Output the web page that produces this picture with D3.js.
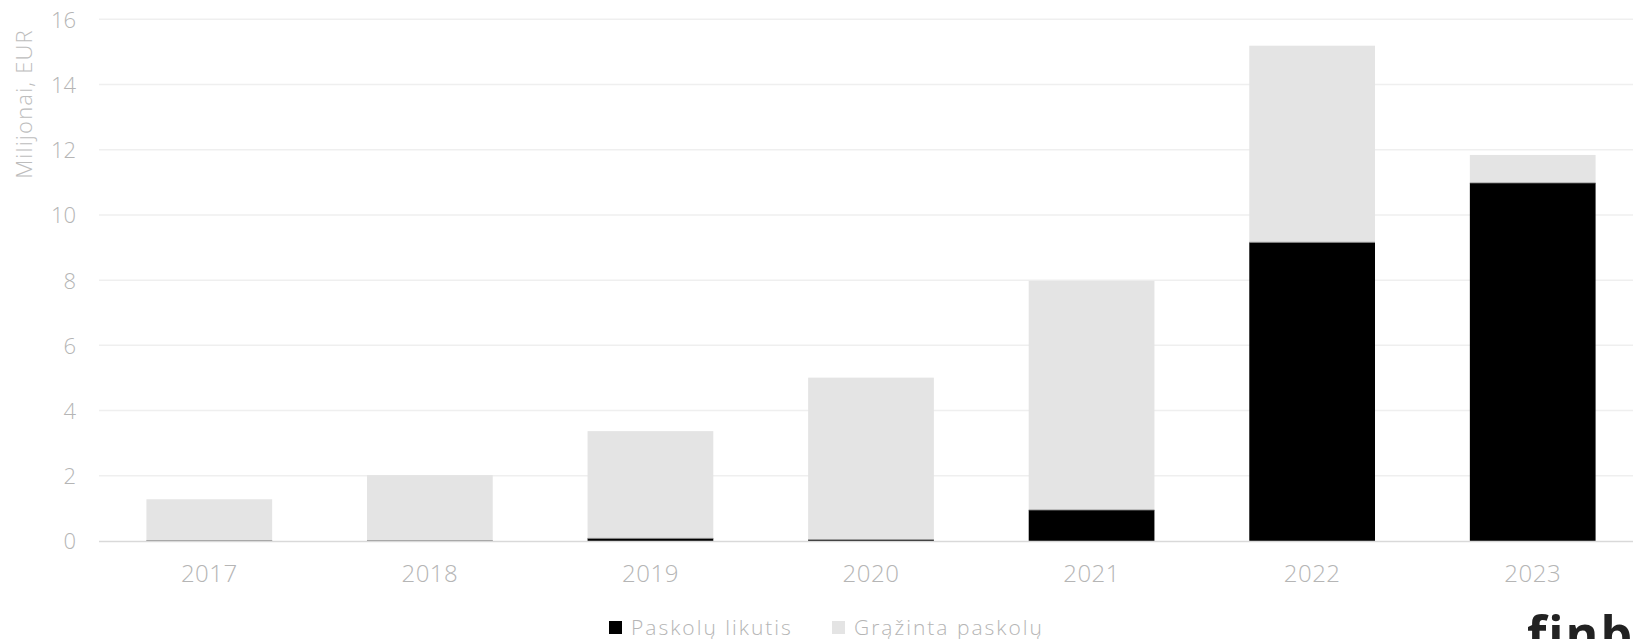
<!DOCTYPE html>
<html>
<head>
<meta charset="utf-8">
<script src="https://cdn.jsdelivr.net/npm/d3@7"></script>
<style>
  html, body { margin: 0; padding: 0; background: #fff; overflow: hidden; }
  svg { display: block; }
  text { font-family: "Open Sans", Lato, sans-serif; }
</style>
</head>
<body>
<script>
const years = ["2017", "2018", "2019", "2020", "2021", "2022", "2023"];
const outstanding = [0.01, 0.01, 0.08, 0.04, 0.95, 9.16, 10.98];   // Paskolų likutis
const repaid = [1.27, 2.01, 3.29, 4.97, 7.03, 6.03, 0.86];          // Grąžinta paskolų
const yTicks = [0, 2, 4, 6, 8, 10, 12, 14, 16];
const seriesNames = ["Paskolų likutis", "Grąžinta paskolų"];
const seriesColors = ["#000000", "#e4e4e4"];

const W = 1633, H = 639;
const svg = d3.select("body").append("svg").attr("width", W).attr("height", H);

const x = d3.scaleBand().domain(years).range([99, 1643]).paddingInner(0.43).paddingOuter(0.215);
const y = d3.scaleLinear().domain([0, 16]).range([541, 19.3]);

// gridlines
svg.append("g").selectAll("line").data(yTicks.filter(d => d > 0)).join("line")
  .attr("x1", 99).attr("x2", W)
  .attr("y1", d => y(d)).attr("y2", d => y(d))
  .attr("stroke", "#efefef").attr("stroke-width", 1.5);

// stacked bars
const rows = years.map((yr, i) => ({ year: yr, a: outstanding[i], b: repaid[i] }));
const stack = d3.stack().keys(["a", "b"])(rows);
svg.append("g").selectAll("g").data(stack).join("g")
  .attr("fill", (d, i) => seriesColors[i])
  .selectAll("rect").data(d => d).join("rect")
  .attr("x", d => x(d.data.year))
  .attr("width", x.bandwidth())
  .attr("y", d => y(d[1]))
  .attr("height", d => Math.max(0, y(d[0]) - y(d[1])));

// thin separator lines at top of black segments
svg.append("g").selectAll("line").data(rows).join("line")
  .attr("x1", d => x(d.year)).attr("x2", d => x(d.year) + x.bandwidth())
  .attr("y1", d => y(d.a)).attr("y2", d => y(d.a))
  .attr("stroke", "#7a7a7a").attr("stroke-width", 0.8);

// baseline
svg.append("line").attr("x1", 99).attr("x2", W).attr("y1", y(0) + 0.5).attr("y2", y(0) + 0.5)
  .attr("stroke", "#d9d9d9").attr("stroke-width", 1.5);

// y axis
const yAxis = svg.append("g").attr("transform", "translate(76,0)")
  .call(d3.axisLeft(y).tickValues(yTicks).tickSize(0).tickPadding(0));
yAxis.select(".domain").remove();
yAxis.selectAll("text").attr("fill", "#b5b5b5").attr("font-size", 22).attr("font-weight", 300)
  .attr("dy", "0.36em");

// x axis
const xAxis = svg.append("g").attr("transform", `translate(0,${y(0)})`)
  .call(d3.axisBottom(x).tickSize(0).tickPadding(0));
xAxis.select(".domain").remove();
xAxis.selectAll("text").attr("fill", "#b5b5b5").attr("font-size", 24).attr("font-weight", 300)
  .attr("dy", null).attr("y", 41).attr("letter-spacing", 0.5);

// y title
svg.append("text")
  .attr("transform", "translate(32,104) rotate(-90)")
  .attr("text-anchor", "middle")
  .attr("fill", "#bdbdbd").attr("font-size", 22).attr("font-weight", 300)
  .attr("letter-spacing", 1.2)
  .text("Milijonai, EUR");

// legend
const legendX = [609, 832];
const lg = svg.append("g").selectAll("g").data(seriesNames).join("g")
  .attr("transform", (d, i) => `translate(${legendX[i]},621)`);
lg.append("rect").attr("width", 13).attr("height", 13).attr("fill", (d, i) => seriesColors[i]);
lg.append("text").attr("x", 22).attr("y", 13.5).attr("fill", "#b5b5b5")
  .attr("font-size", 21).attr("font-weight", 300).attr("letter-spacing", 2).text(d => d);

// logo (cropped by the page edge, as in the reference)
svg.append("text").attr("x", 1527).attr("y", 652)
  .attr("fill", "#222").attr("font-size", 50).attr("font-weight", 700)
  .attr("font-family", "Lato, sans-serif").attr("letter-spacing", 2)
  .text("finb");
</script>
</body>
</html>
